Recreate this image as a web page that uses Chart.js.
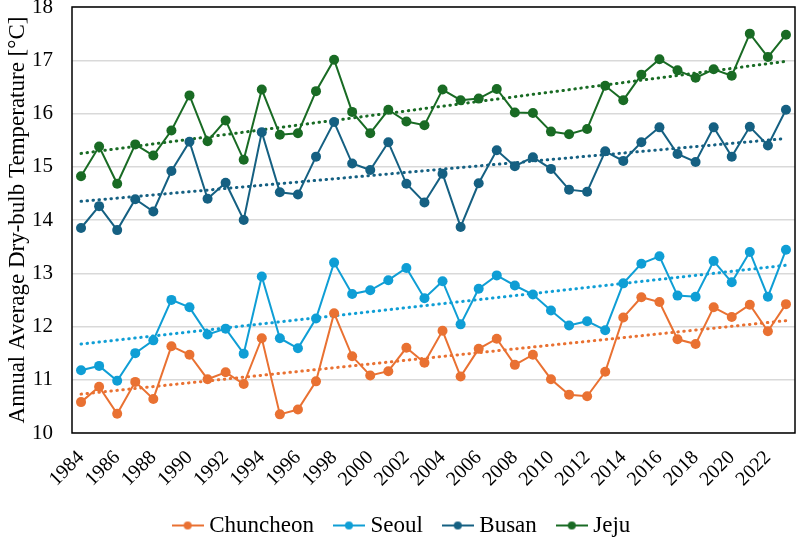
<!DOCTYPE html>
<html>
<head>
<meta charset="utf-8">
<script src="https://cdn.jsdelivr.net/npm/chart.js@4"></script>
<style>
  html, body { margin: 0; padding: 0; background: #fff; }
  #wrap { width: 800px; height: 542px; }
</style>
</head>
<body>
<div id="wrap"><canvas id="myChart"></canvas></div>
<script>
// years on the x axis
const years = [];
for (let y = 1984; y <= 2023; y++) years.push(String(y));

// annual average dry-bulb temperature (°C)
const chuncheon = [10.58, 10.87, 10.36, 10.96, 10.64, 11.63, 11.47, 11.01, 11.14, 10.92,
                   11.78, 10.35, 10.44, 10.97, 12.25, 11.44, 11.08, 11.16, 11.60, 11.32,
                   11.92, 11.06, 11.58, 11.77, 11.28, 11.47, 11.01, 10.72, 10.69, 11.15,
                   12.17, 12.55, 12.46, 11.76, 11.67, 12.36, 12.18, 12.41, 11.91, 12.42];
const seoul =     [11.18, 11.26, 10.98, 11.50, 11.74, 12.50, 12.36, 11.85, 11.96, 11.49,
                   12.94, 11.78, 11.59, 12.15, 13.20, 12.61, 12.68, 12.87, 13.10, 12.53,
                   12.85, 12.04, 12.71, 12.96, 12.77, 12.60, 12.30, 12.02, 12.10, 11.93,
                   12.81, 13.18, 13.32, 12.58, 12.56, 13.23, 12.83, 13.40, 12.56, 13.44];
const busan =     [13.85, 14.26, 13.81, 14.39, 14.16, 14.92, 15.47, 14.40, 14.70, 14.00,
                   15.65, 14.52, 14.48, 15.19, 15.84, 15.06, 14.94, 15.46, 14.68, 14.33,
                   14.87, 13.87, 14.69, 15.31, 15.01, 15.18, 14.96, 14.57, 14.53, 15.29,
                   15.11, 15.46, 15.74, 15.24, 15.09, 15.74, 15.19, 15.75, 15.40, 16.07];
const jeju =      [14.82, 15.38, 14.68, 15.42, 15.21, 15.68, 16.34, 15.48, 15.87, 15.13,
                   16.45, 15.60, 15.63, 16.42, 17.01, 16.03, 15.63, 16.07, 15.85, 15.78,
                   16.45, 16.25, 16.28, 16.46, 16.02, 16.01, 15.66, 15.61, 15.71, 16.52,
                   16.25, 16.73, 17.02, 16.81, 16.67, 16.83, 16.71, 17.50, 17.06, 17.48];

// linear trend lines: [value in 1984, value in 2023]
const chuncheonTrend = [10.73, 12.11];
const seoulTrend = [11.67, 13.15];
const busanTrend = [14.35, 15.53];
const jejuTrend = [15.25, 16.98];

const yTicks = [10, 11, 12, 13, 14, 15, 16, 17, 18];

const colors = {
    Chuncheon: '#E97132',
    Seoul: '#0F9ED5',
    Busan: '#156082',
    Jeju: '#196B24'
};

const FONT = "'Liberation Serif', 'Times New Roman', serif";

// trend: first and last year only, Chart.js joins them
function trendData(ends) {
    const arr = years.map(() => null);
    arr[0] = ends[0];
    arr[arr.length - 1] = ends[1];
    return arr;
}

// little "line with dot" legend marker
function legendMarker(color) {
    const c = document.createElement('canvas');
    c.width = 32; c.height = 12;
    const g = c.getContext('2d');
    g.strokeStyle = color;
    g.lineWidth = 2;
    g.beginPath(); g.moveTo(0, 6); g.lineTo(32, 6); g.stroke();
    g.fillStyle = color;
    g.beginPath(); g.arc(16, 6, 4, 0, Math.PI * 2); g.fill();
    return c;
}

function series(label, values) {
    return {
        label: label,
        data: values,
        borderColor: colors[label],
        backgroundColor: colors[label],
        borderWidth: 2,
        pointRadius: 5,
        pointHoverRadius: 5,
        pointBorderWidth: 0,
        pointStyle: 'circle',
        legendMarker: legendMarker(colors[label]),
        tension: 0,
        order: 1
    };
}

function trend(label, ends) {
    return {
        label: label + ' trend',
        data: trendData(ends),
        borderColor: colors[label],
        borderWidth: 3,
        borderDash: [0.5, 5.5],
        borderCapStyle: 'round',
        pointRadius: 0,
        spanGaps: true,
        order: 2
    };
}

// plot area frame
const frame = {
    id: 'frame',
    afterDatasetsDraw(chart) {
        const { ctx, chartArea: { left, top, width, height } } = chart;
        ctx.save();
        ctx.strokeStyle = '#000';
        ctx.lineWidth = 1.5;
        ctx.strokeRect(left, top, width, height);
        ctx.restore();
    }
};

// nudge the legend a bit lower / right, and let the year labels hang
// below the x scale box (they get clipped to it otherwise)
const layoutNudge = {
    id: 'layoutNudge',
    afterLayout(chart) {
        const lg = chart.legend;
        lg.top += 5; lg.bottom += 5;
        lg.left += 6; lg.right += 6;
        chart.scales.x.bottom += 20;
    }
};

const data = {
    labels: years,
    datasets: [
        series('Chuncheon', chuncheon),
        series('Seoul', seoul),
        series('Busan', busan),
        series('Jeju', jeju),
        trend('Chuncheon', chuncheonTrend),
        trend('Seoul', seoulTrend),
        trend('Busan', busanTrend),
        trend('Jeju', jejuTrend)
    ]
};

const config = {
    type: 'line',
    data: data,
    options: {
        responsive: true,
        maintainAspectRatio: false,
        animation: false,
        layout: { padding: { top: 7, right: 4, left: 0, bottom: 0 } },
        scales: {
            x: {
                offset: true,
                grid: { display: false, drawTicks: false },
                border: { display: false },
                ticks: {
                    autoSkip: false,
                    maxRotation: 45,
                    minRotation: 45,
                    padding: 13,
                    color: '#000',
                    font: { family: FONT, size: 20 },
                    callback: function (val, idx) {
                        return idx % 2 === 0 ? years[idx] : '';
                    }
                },
                afterFit(scale) {
                    scale.height = 51;
                    scale.paddingLeft = 0;
                    scale.paddingRight = 0;
                }
            },
            y: {
                min: 10,
                max: 18,
                afterBuildTicks(scale) {
                    scale.ticks = yTicks.map(v => ({ value: v }));
                },
                grid: { color: '#D9D9D9', lineWidth: 1.5, drawTicks: false },
                border: { display: false },
                ticks: {
                    padding: 19,
                    color: '#000',
                    font: { family: FONT, size: 21 }
                },
                title: {
                    display: true,
                    text: 'Annual Average Dry-bulb Temperature [°C]',
                    color: '#000',
                    font: { family: FONT, size: 23 },
                    padding: { top: 4, bottom: 2 }
                },
                afterFit(scale) {
                    scale.width = 72;
                    scale.paddingTop = 0;
                    scale.paddingBottom = 0;
                }
            }
        },
        plugins: {
            tooltip: { enabled: false },
            legend: {
                position: 'bottom',
                labels: {
                    usePointStyle: true,
                    pointStyleWidth: 20,
                    padding: 25,
                    color: '#000',
                    font: { family: FONT, size: 23 },
                    generateLabels(chart) {
                        return chart.data.datasets.slice(0, 4).map((ds, i) => ({
                            text: ds.label,
                            datasetIndex: i,
                            pointStyle: ds.legendMarker,
                            fillStyle: ds.borderColor,
                            strokeStyle: ds.borderColor,
                            lineWidth: 0,
                            fontColor: '#000',
                            hidden: false
                        }));
                    }
                }
            }
        }
    },
    plugins: [frame, layoutNudge]
};

const myChart = new Chart(document.getElementById('myChart'), config);
</script>
</body>
</html>
